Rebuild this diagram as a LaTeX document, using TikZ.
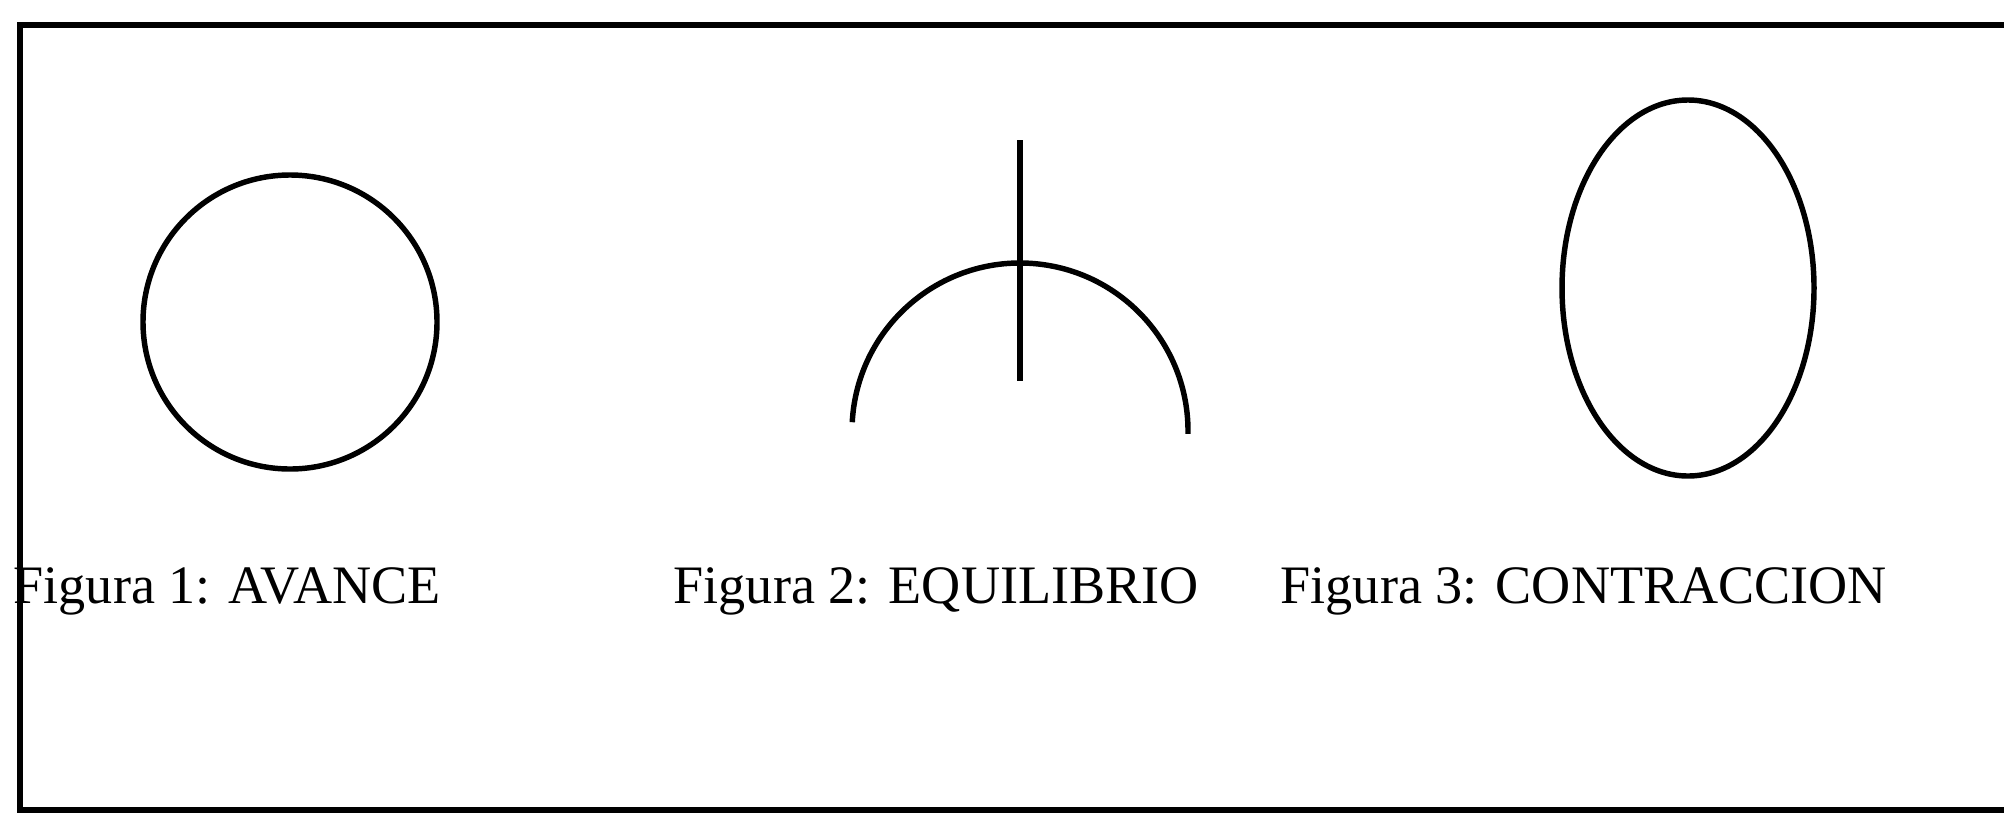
\documentclass[tikz,border=0pt]{standalone}
\usepackage{fontspec}
\setmainfont{Liberation Serif}
\usepackage{tikz}
\usetikzlibrary{positioning}

\begin{document}
\begin{tikzpicture}[x=0.01cm,y=0.01cm,
  figline/.style={line width=1.55pt,black},
  caption/.style={anchor=base west,inner sep=0pt,font=\fontsize{15.4}{18}\selectfont}]
\useasboundingbox (0,0) rectangle (2004,814);
\clip (0,0) rectangle (2004,814);
% frame, open to the right
\draw[line width=1.7pt] (2030,789) -- (20,789) -- (20,4) -- (2030,4);
% figura 1
\coordinate (c1) at (290,492);
\draw[figline] (c1) circle[radius=147];
% figura 2
\coordinate (c2) at (1020,383);
\coordinate (top2) at (1020,674);
\draw[figline] ([shift={(177:168)}]c2) arc[start angle=177,end angle=-1,radius=168];
\draw[figline] (top2) -- (c2 |- 0,433);
% figura 3
\coordinate (c3) at (1688,526);
\draw[figline] (c3) ellipse[x radius=126,y radius=188];
% captions
\node[caption] (avance) at (13,211) {Figura 1: AVANCE};
\node[caption] (equilibrio) at (673,211) {Figura 2: EQUILIBRIO};
\node[caption] (contraccion) at (1280,211) {Figura 3: CONTRACCION};
\end{tikzpicture}
\end{document}
